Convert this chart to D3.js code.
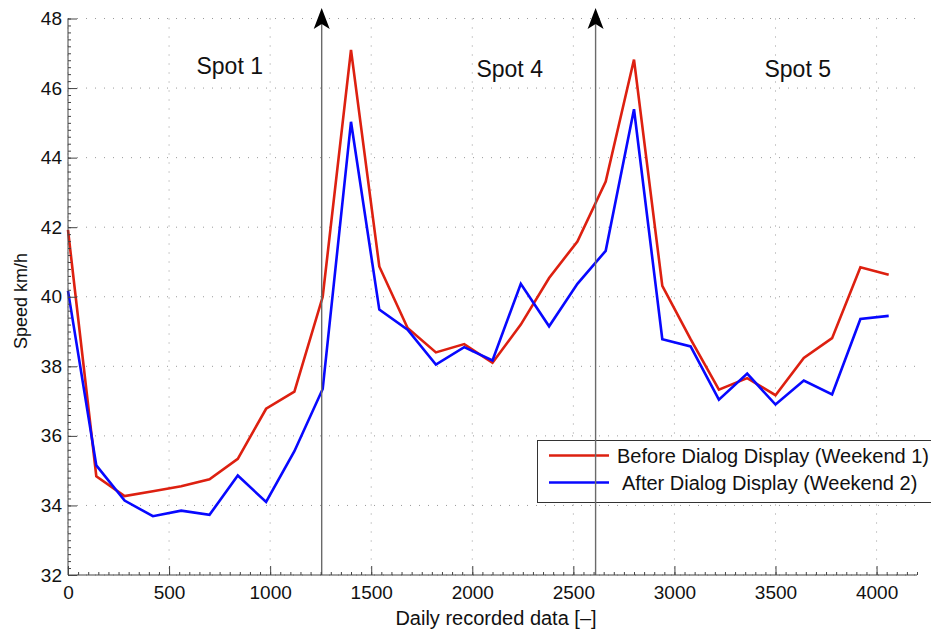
<!DOCTYPE html>
<html>
<head>
<meta charset="utf-8">
<script src="https://cdn.jsdelivr.net/npm/d3@7"></script>
<style>
  body { margin: 0; background: #fff; }
  text { font-family: "Liberation Sans", Arial, Helvetica, sans-serif; fill: #111; }
</style>
</head>
<body>
<script>
// data
var recorded = [0, 140, 280, 420, 560, 700, 840, 980, 1120, 1260, 1400, 1540, 1680, 1820, 1960,
  2100, 2240, 2380, 2520, 2660, 2800, 2940, 3080, 3220, 3360, 3500, 3640, 3780, 3920, 4060];
var beforeSpeed = [41.92, 34.84, 34.27, 34.41, 34.55, 34.75, 35.34, 36.78, 37.27, 40.0,
  47.1, 40.87, 39.1, 38.4, 38.64, 38.1, 39.2, 40.54, 41.59, 43.31,
  46.82, 40.31, 38.78, 37.33, 37.66, 37.17, 38.24, 38.81, 40.85, 40.63];
var afterSpeed = [40.17, 35.15, 34.14, 33.69, 33.85, 33.73, 34.86, 34.1, 35.56, 37.35,
  45.03, 39.63, 39.05, 38.05, 38.55, 38.17, 40.37, 39.15, 40.37, 41.32,
  45.39, 38.78, 38.57, 37.04, 37.79, 36.9, 37.59, 37.19, 39.36, 39.45];
var seriesNames = ["Before Dialog Display (Weekend 1)", "After Dialog Display (Weekend 2)"];
var seriesColors = ["#dd2010", "#0808ff"];

var xTicks = [0, 500, 1000, 1500, 2000, 2500, 3000, 3500, 4000];
var yTicks = [32, 34, 36, 38, 40, 42, 44, 46, 48];

// spot borders (arrows) and spot labels
var arrowAt = [1255, 2610];
var spotNames = ["Spot 1", "Spot 4", "Spot 5"];
var spotAt = [800, 2185, 3610];

var w = 931, h = 630;
var svg = d3.select("body").append("svg").attr("width", w).attr("height", h);

var x = d3.scaleLinear().domain([0, 4200]).range([68, 917]);
var y = d3.scaleLinear().domain([32, 48]).range([575, 18.5]);

// grid
var grid = svg.append("g").attr("stroke", "#9a9a9a").attr("stroke-width", 1)
  .attr("stroke-dasharray", "1,8");
grid.selectAll("line.v").data(xTicks).enter().append("line")
  .attr("x1", function(d){ return x(d); }).attr("x2", function(d){ return x(d); })
  .attr("y1", y(48)).attr("y2", y(32));
grid.selectAll("line.h").data(yTicks).enter().append("line")
  .attr("x1", x(0)).attr("x2", x(4200))
  .attr("y1", function(d){ return y(d); }).attr("y2", function(d){ return y(d); });

// series
var line = d3.line().x(function(d){ return x(d[0]); }).y(function(d){ return y(d[1]); });
[beforeSpeed, afterSpeed].forEach(function(s, k){
  svg.append("path")
    .datum(recorded.map(function(r, i){ return [r, s[i]]; }))
    .attr("fill", "none").attr("stroke", seriesColors[k]).attr("stroke-width", 2.6)
    .attr("stroke-linejoin", "miter")
    .attr("d", line);
});

// spot labels
svg.selectAll("text.spot").data(spotNames).enter().append("text")
  .attr("class", "spot")
  .attr("x", function(d, i){ return x(spotAt[i]); })
  .attr("y", function(d, i){ return i == 0 ? 74 : 77; })
  .attr("text-anchor", "middle").attr("font-size", 23)
  .text(function(d){ return d; });

// legend
var lg = svg.append("g");
lg.append("rect").attr("x", 537.5).attr("y", 440.5).attr("width", 420).attr("height", 62)
  .attr("fill", "#fff").attr("stroke", "#333").attr("stroke-width", 1);
seriesNames.forEach(function(n, k){
  var ly = 455.5 + k * 27;
  lg.append("line").attr("x1", 549).attr("x2", 609).attr("y1", ly).attr("y2", ly)
    .attr("stroke", seriesColors[k]).attr("stroke-width", 2.6);
  lg.append("text").attr("x", k == 0 ? 617 : 622).attr("y", ly + 7.5)
    .attr("font-size", 20).text(n);
});

// arrows marking spot borders
arrowAt.forEach(function(a){
  var ax = x(a);
  svg.append("line").attr("x1", ax).attr("x2", ax).attr("y1", y(32)).attr("y2", 22)
    .attr("stroke", "#6a6a6a").attr("stroke-width", 1.4);
  svg.append("path")
    .attr("d", "M" + ax + ",8 L" + (ax + 8) + ",29 L" + ax + ",24 L" + (ax - 8) + ",29 Z")
    .attr("fill", "#000");
});

// axes
var xAxis = svg.append("g").attr("transform", "translate(0," + y(32) + ")")
  .call(d3.axisBottom(x).tickValues(xTicks).tickSize(-9).tickPadding(11)
    .tickFormat(d3.format("d")));
var xMinor = svg.append("g").attr("transform", "translate(0," + y(32) + ")")
  .call(d3.axisBottom(x).tickValues(d3.range(0, 4201, 50)).tickSize(-3).tickFormat(""));
var yAxis = svg.append("g").attr("transform", "translate(" + x(0) + ",0)")
  .call(d3.axisLeft(y).tickValues(yTicks).tickSize(-9).tickPadding(6)
    .tickFormat(d3.format("d")));
var yMinor = svg.append("g").attr("transform", "translate(" + x(0) + ",0)")
  .call(d3.axisLeft(y).tickValues(d3.range(32, 48.01, 0.2)).tickSize(-3).tickFormat(""));

[xAxis, xMinor, yAxis, yMinor].forEach(function(g){
  g.selectAll("path.domain").attr("stroke", "#444");
  g.selectAll(".tick line").attr("stroke", "#444");
  g.selectAll("text").attr("font-size", 19).attr("fill", "#111")
    .attr("font-family", "Liberation Sans, Arial, sans-serif");
});
xMinor.select("path.domain").remove();
yMinor.select("path.domain").remove();
xAxis.select("path.domain").attr("d", "M" + x(0) + ",0H" + x(4200));
yAxis.select("path.domain").attr("d", "M0," + y(32) + "V" + y(48));

// axis titles
svg.append("text").attr("x", 496).attr("y", 625).attr("text-anchor", "middle")
  .attr("font-size", 20).text("Daily recorded data [–]");
svg.append("text").attr("transform", "translate(27,301) rotate(-90)")
  .attr("text-anchor", "middle").attr("font-size", 18).text("Speed km/h");
</script>
</body>
</html>
